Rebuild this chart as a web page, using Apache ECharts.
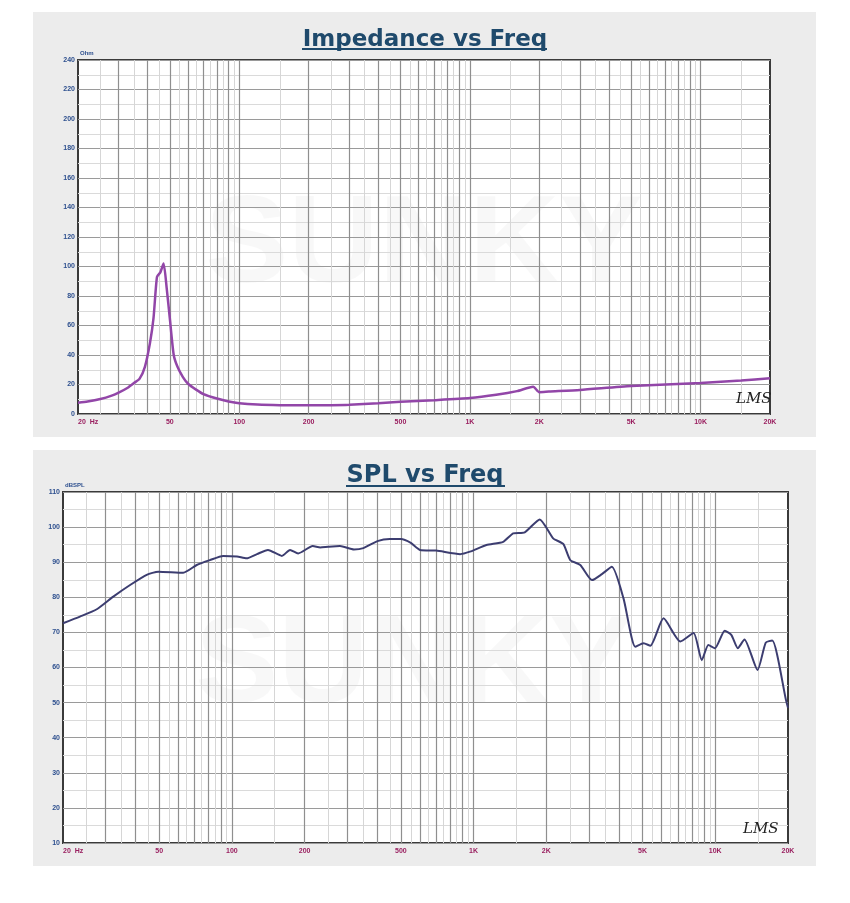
<!DOCTYPE html>
<html>
<head>
<meta charset="utf-8">
<script src="https://cdn.jsdelivr.net/npm/echarts@6/dist/echarts.min.js"></script>
<style>
    html, body { margin: 0; padding: 0; background: #fff; }
    #chart { width: 850px; height: 903px; }
</style>
</head>
<body>
<div id="chart"></div>
<script>
// impedance curve
const impFreq = [20, 22, 25, 28, 30, 33, 35, 37, 39, 41, 42.5, 44, 45.5, 47, 48.5, 50, 52, 54, 57, 60, 65, 70, 80, 90, 100, 120, 150, 200, 250, 300, 400, 500, 700, 1000, 1300, 1600, 1880, 2000, 2200, 3000, 5000, 10000, 15000, 20000];
const impOhm = [7.7, 8.5, 10.2, 12.5, 14.5, 18, 21, 24, 32, 48, 65, 93, 96, 102, 85, 65, 40, 32, 25, 20.5, 16.5, 13.5, 10.5, 8.5, 7.3, 6.4, 6.0, 5.9, 6.0, 6.3, 7.3, 8.3, 9.4, 10.8, 13, 15.5, 18.5, 14.8, 15.2, 16.3, 19, 21, 22.7, 24.3];

// SPL curve
const splFreq = [20, 23.5, 27.6, 32.3, 37.9, 44.4, 49.6, 62.9, 71.5, 81, 92, 105, 115, 127, 141, 161, 174, 188, 216, 232, 250, 280, 320, 350, 400, 450, 500, 550, 600, 700, 880, 966, 1130, 1326, 1458, 1628, 1878, 2134, 2350, 2512, 2764, 3090, 3396, 3734, 4172, 4668, 5052, 5388, 6110, 7172, 8134, 8796, 9364, 9972, 10948, 11652, 12400, 13208, 14966, 16180, 17220, 19620, 20000];
const splDb = [72.6, 74.5, 76.6, 80.2, 83.5, 86.4, 87.3, 87.0, 89.2, 90.6, 91.8, 91.6, 91.1, 92.3, 93.5, 91.8, 93.5, 92.5, 94.6, 94.2, 94.4, 94.6, 93.6, 94.0, 96.0, 96.6, 96.6, 95.5, 93.5, 93.3, 92.3, 93.0, 94.9, 95.8, 98.2, 98.5, 102.2, 96.8, 95.2, 90.6, 89.2, 84.9, 86.6, 88.7, 79.7, 65.9, 66.9, 66.2, 74.0, 67.4, 69.8, 62.1, 66.4, 65.5, 70.5, 69.3, 65.5, 68.0, 59.3, 67.1, 67.7, 50.7, 48.5];

// log grid lines
const gridMajor = [30, 40, 50, 60, 70, 80, 90, 100, 200, 300, 400, 500, 600, 700, 800, 900, 1000, 2000, 3000, 4000, 5000, 6000, 7000, 8000, 9000, 10000];
const gridMinor = [25, 35, 45, 55, 65, 75, 85, 95, 150, 250, 350, 450, 550, 650, 750, 850, 950, 1500, 2500, 3500, 4500, 5500, 6500, 7500, 8500, 9500, 15000];

const xTicks = [20, 50, 100, 200, 500, 1000, 2000, 5000, 10000, 20000];
const xTickLabels = ['20  Hz', '50', '100', '200', '500', '1K', '2K', '5K', '10K', '20K'];

let chartDom = document.getElementById('chart');
let myChart = echarts.init(chartDom);

function pairs(xs, ys) {
    return xs.map(function (x, i) { return [x, ys[i]]; });
}

function gridLines(idx) {
    let data = gridMajor.map(function (f) {
        return {xAxis: f, lineStyle: {color: '#8f8f8f', width: 1.2}};
    }).concat(gridMinor.map(function (f) {
        return {xAxis: f, lineStyle: {color: '#d6d6d6', width: 1}};
    }));
    return {
        type: 'line',
        xAxisIndex: idx,
        yAxisIndex: idx,
        data: [],
        silent: true,
        markLine: {
            silent: true,
            symbol: 'none',
            z: 1,
            label: {show: false},
            lineStyle: {type: 'solid'},
            data: data
        }
    };
}

function xAxisOf(idx) {
    return {
        type: 'log',
        logBase: 10,
        gridIndex: idx,
        min: 20,
        max: 20000,
        axisLine: {show: false},
        axisTick: {show: false},
        splitLine: {show: false},
        axisLabel: {
            customValues: xTicks,
            alignMinLabel: 'left',
            margin: 5,
            fontSize: 7,
            fontWeight: 'bold',
            color: '#9a2060',
            fontFamily: 'Liberation Sans',
            formatter: function (v) {
                let i = xTicks.findIndex(function (t) { return Math.abs(t - v) < 1e-6 * t; });
                return i >= 0 ? xTickLabels[i] : '';
            }
        }
    };
}

function yAxisOf(idx, min, max, step, name) {
    return {
        type: 'value',
        gridIndex: idx,
        min: min,
        max: max,
        interval: step,
        name: name,
        nameLocation: 'end',
        nameGap: 3,
        nameTextStyle: {align: 'left', fontSize: 6, color: '#2d4f8e', fontWeight: 'bold', padding: [0, 0, 0, 2]},
        axisLine: {show: false},
        axisTick: {show: false},
        axisLabel: {fontSize: 7, fontWeight: 'bold', color: '#2d4f8e', margin: 3, fontFamily: 'Liberation Sans'},
        splitLine: {show: true, lineStyle: {color: '#9a9a9a', width: 1.2}},
        minorTick: {show: false, splitNumber: 2},
        minorSplitLine: {show: true, lineStyle: {color: '#dadada', width: 1}}
    };
}

let option = {
    animation: false,
    backgroundColor: '#fff',
    title: [
        {
            text: 'Impedance vs Freq',
            left: 'center',
            top: 24,
            textStyle: {fontFamily: 'DejaVu Sans', fontWeight: 'bold', fontSize: 23, color: '#1f4a6c'}
        },
        {
            text: 'SPL vs Freq',
            left: 'center',
            top: 459,
            textStyle: {fontFamily: 'DejaVu Sans', fontWeight: 'bold', fontSize: 24, color: '#1f4a6c'}
        }
    ],
    graphic: [
        {type: 'rect', z: -10, shape: {x: 33, y: 12, width: 783, height: 425}, style: {fill: '#ececec'}},
        {type: 'rect', z: -10, shape: {x: 33, y: 450, width: 783, height: 416}, style: {fill: '#ececec'}},
        {type: 'line', shape: {x1: 302, y1: 49, x2: 547, y2: 49}, style: {stroke: '#1f4a6c', lineWidth: 2}},
        {type: 'line', shape: {x1: 346, y1: 486, x2: 505, y2: 486}, style: {stroke: '#1f4a6c', lineWidth: 2}},
        {type: 'text', z: 0, left: 205, top: 185, style: {text: 'SUNKY', font: 'bold 125px "Liberation Sans"', fill: 'rgba(0,0,0,0.028)'}},
        {type: 'text', z: 0, left: 195, top: 605, style: {text: 'SUNKY', font: 'bold 125px "Liberation Sans"', fill: 'rgba(0,0,0,0.028)'}},
        {type: 'text', z: 20, left: 736, top: 392, style: {text: 'LMS', font: 'italic 15px "DejaVu Serif"', fill: '#222'}},
        {type: 'text', z: 20, left: 743, top: 822, style: {text: 'LMS', font: 'italic 15px "DejaVu Serif"', fill: '#222'}}
    ],
    grid: [
        {left: 78, top: 60, width: 692, height: 354, show: true, backgroundColor: '#fff', borderColor: '#3a3a3a', borderWidth: 2},
        {left: 63, top: 492, width: 725, height: 351, show: true, backgroundColor: '#fff', borderColor: '#3a3a3a', borderWidth: 2}
    ],
    xAxis: [xAxisOf(0), xAxisOf(1)],
    yAxis: [
        yAxisOf(0, 0, 240, 20, 'Ohm'),
        yAxisOf(1, 10, 110, 10, 'dBSPL')
    ],
    series: [
        gridLines(0),
        gridLines(1),
        {
            name: 'Impedance',
            type: 'line',
            xAxisIndex: 0,
            yAxisIndex: 0,
            z: 10,
            showSymbol: false,
            smooth: 0.2,
            lineStyle: {color: '#9246a8', width: 2.5},
            data: pairs(impFreq, impOhm)
        },
        {
            name: 'SPL',
            type: 'line',
            xAxisIndex: 1,
            yAxisIndex: 1,
            z: 10,
            showSymbol: false,
            smooth: 0.2,
            lineStyle: {color: '#3c3d70', width: 2},
            data: pairs(splFreq, splDb)
        }
    ]
};
option && myChart.setOption(option);
</script>
</body>
</html>
